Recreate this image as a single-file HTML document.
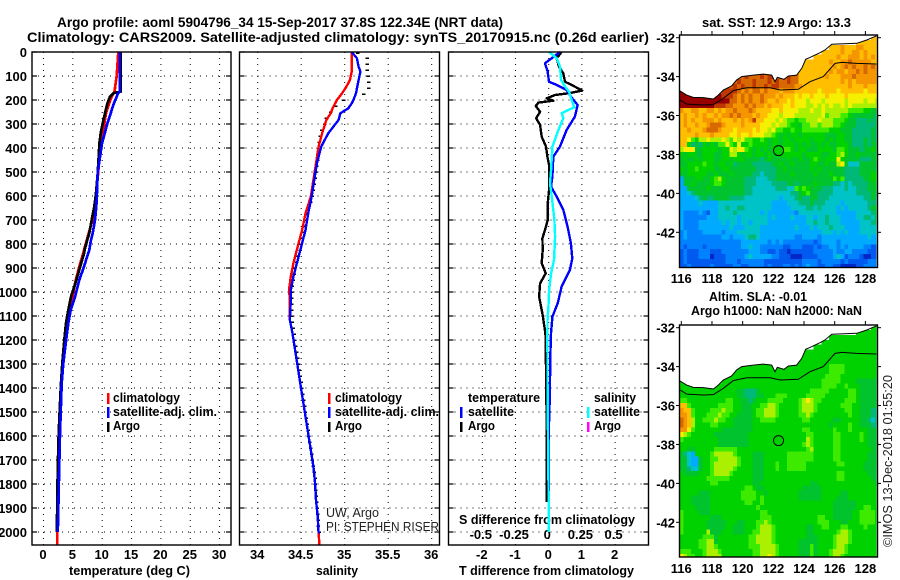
<!DOCTYPE html>
<html lang="en">
<head>
<meta charset="utf-8">
<title>Argo profile 5904796_34</title>
<style>
html,body{margin:0;padding:0;background:#fff;width:900px;height:580px;overflow:hidden}
svg{display:block}
text{font-family:"Liberation Sans",sans-serif;font-size:13px;font-weight:bold;fill:#000}
text.thin{font-weight:normal;fill:#222}
</style>
</head>
<body>
<svg id="chart" width="900" height="580" viewBox="0 0 900 580" xmlns="http://www.w3.org/2000/svg">
<defs id="chart-defs">
<clipPath id="clip-sst"><rect x="679.5" y="35" width="197" height="232.5"/></clipPath>
<clipPath id="clip-sla"><rect x="679.5" y="325" width="197" height="232"/></clipPath>
</defs>
<text x="57" y="27" textLength="446" lengthAdjust="spacingAndGlyphs" style="font-size:13.5px">Argo profile: aoml 5904796_34 15-Sep-2017 37.8S 122.34E (NRT data)</text>
<text x="27" y="42" textLength="622" lengthAdjust="spacingAndGlyphs" style="font-size:13.5px">Climatology: CARS2009. Satellite-adjusted climatology: synTS_20170915.nc (0.26d earlier)</text>

<text x="69" y="575" textLength="121" lengthAdjust="spacingAndGlyphs">temperature (deg C)</text>
<text x="316" y="575" textLength="42" lengthAdjust="spacingAndGlyphs">salinity</text>
<text x="459" y="575" textLength="175" lengthAdjust="spacingAndGlyphs">T difference from climatology</text>
<text x="459" y="524" textLength="176" lengthAdjust="spacingAndGlyphs">S difference from climatology</text>

<g id="layer-panels"></g>

<g>
<rect x="107" y="393" width="2.5" height="11" fill="#ff0000"/>
<rect x="107" y="407" width="2.5" height="11" fill="#0000ff"/>
<rect x="107" y="422" width="2.5" height="10" fill="#000"/>
<text x="113" y="402" textLength="67" lengthAdjust="spacingAndGlyphs">climatology</text>
<text x="113" y="416" textLength="104" lengthAdjust="spacingAndGlyphs">satellite-adj. clim.</text>
<text x="113" y="430" textLength="27" lengthAdjust="spacingAndGlyphs">Argo</text>
</g>
<g>
<rect x="328" y="393" width="2.5" height="11" fill="#ff0000"/>
<rect x="328" y="407" width="2.5" height="11" fill="#0000ff"/>
<rect x="328" y="422" width="2.5" height="10" fill="#000"/>
<text x="335" y="402" textLength="67" lengthAdjust="spacingAndGlyphs">climatology</text>
<text x="335" y="416" textLength="104" lengthAdjust="spacingAndGlyphs">satellite-adj. clim.</text>
<text x="335" y="430" textLength="27" lengthAdjust="spacingAndGlyphs">Argo</text>
<text class="thin" x="326" y="517" textLength="53" lengthAdjust="spacingAndGlyphs">UW, Argo</text>
<text class="thin" x="326" y="531" textLength="113" lengthAdjust="spacingAndGlyphs">PI: STEPHEN RISER</text>
</g>
<g>
<text x="468" y="402" textLength="72" lengthAdjust="spacingAndGlyphs">temperature</text>
<text x="468" y="416" textLength="46" lengthAdjust="spacingAndGlyphs">satellite</text>
<text x="468" y="430" textLength="27" lengthAdjust="spacingAndGlyphs">Argo</text>
<rect x="460" y="407" width="2.5" height="11" fill="#0000ff"/>
<rect x="460" y="422" width="2.5" height="10" fill="#000"/>
<text x="594" y="402" textLength="42" lengthAdjust="spacingAndGlyphs">salinity</text>
<text x="594" y="416" textLength="46" lengthAdjust="spacingAndGlyphs">satellite</text>
<text x="594" y="430" textLength="27" lengthAdjust="spacingAndGlyphs">Argo</text>
<rect x="587" y="407" width="2.5" height="11" fill="#00ffff"/>
<rect x="587" y="422" width="2.5" height="10" fill="#ff00ff"/>
</g>

<g id="layer-maps"></g>

<text x="702" y="27" textLength="149" lengthAdjust="spacingAndGlyphs">sat. SST: 12.9 Argo: 13.3</text>
<text x="709" y="301" textLength="98" lengthAdjust="spacingAndGlyphs">Altim. SLA: -0.01</text>
<text x="691" y="315" textLength="171" lengthAdjust="spacingAndGlyphs">Argo h1000: NaN h2000: NaN</text>
<text class="thin" transform="translate(892 547) rotate(-90)" textLength="172" lengthAdjust="spacingAndGlyphs">©IMOS 13-Dec-2018 01:55:20</text>
</svg>

<script>
// ---- axis tick values ----
const depthTicks = [0,100,200,300,400,500,600,700,800,900,1000,1100,1200,1300,1400,1500,1600,1700,1800,1900,2000];
const tempTicks = [0,5,10,15,20,25,30];
const salTicks = [34,34.5,35,35.5,36];
const tDiffTicks = [-2,-1,0,1,2];
const sDiffTicks = [-0.5,-0.25,0,0.25,0.5];
const sDiffLabels = ['-0.5','-0.25','0','0.25','0.5'];
const lonTicks = [116,118,120,122,124,126,128];
const latTicks = [-32,-34,-36,-38,-40,-42];

// ---- temperature profile ----
const tempDepths = [0,100,165,172,186,214,255,297,339,380,436,505,590,644,700,755,783,825,840,894,950,1020,1075,1130,1214,1297,1380,1464,1589,1714,1825,1963,2000,2054];
const climTemp = [12.75,12.47,12.1,11.9,11.6,11.2,10.65,10.37,10.09,9.86,9.52,9.3,9.0,8.75,8.35,7.7,7.4,6.9,6.75,6.1,5.5,4.9,4.4,3.9,3.5,3.2,3.0,2.85,2.65,2.5,2.4,2.36,2.36,2.33];
const argoTemp = [13.15,13.15,13.15,11.9,11.33,10.88,10.48,10.09,9.74,9.52,9.4,9.23,8.95,8.66,8.21,7.8,7.47,7.0,6.9,6.25,5.6,4.69,4.23,3.84,3.49,3.21,2.98,2.81,2.59,2.45,2.36,2.3,2.3];
const satTemp = [13.0,13.0,13.0,12.7,12.47,12.0,11.45,10.88,10.43,9.97,9.63,9.23,9.1,9.0,8.78,8.38,8.1,7.81,7.6,6.9,6.1,5.37,4.63,4.23,3.78,3.38,3.1,2.98,2.81,2.7,2.59,2.47,2.42];

// ---- salinity profile ----
const salDepths = [0,26,61,82,117,144,172,200,214,235,255,283,339,394,464,533,603,672,742,811,880,936,992,1033,1117,1172,1242,1311,1381,1450,1519,1589,1658,1728,1797,1867,1936,2006,2054];
const climSal = [35.08,35.08,35.08,35.08,35.06,35.02,34.97,34.91,34.89,34.86,34.84,34.79,34.74,34.70,34.67,34.64,34.61,34.55,34.51,34.46,34.41,34.38,34.36,34.37,34.37,34.40,34.43,34.46,34.49,34.52,34.55,34.58,34.61,34.64,34.66,34.67,34.69,34.70,34.71];
const satSal = [35.08,35.14,35.16,35.18,35.16,35.145,35.13,35.10,35.08,35.04,34.95,34.93,34.81,34.73,34.68,34.65,34.62,34.58,34.55,34.50,34.45,34.41,34.38,34.38,34.37,34.40,34.43,34.46,34.49,34.52,34.55,34.58,34.61,34.64,34.66,34.67,34.69,34.70];
const argoSalDepths = [5,25,50,75,100,125,150,175,200,225,250,275,300,325,350,375,400,425,450,475,500,525,550,575,600,625,650,675,700,725,750,775,800,825,850,875,900,925,950,975,1000,1025,1050,1075,1100,1125,1150,1175,1200,1225,1250,1275,1300,1325,1350,1375,1400,1425,1450,1475,1500,1525,1550,1575,1600,1625,1650,1675,1700,1725,1750,1775,1800,1825,1850,1875,1900,1925,1950,1975,2000];
const argoSal = [35.14,35.25,35.25,35.25,35.26,35.27,35.27,35.21,34.98,34.89,34.83,34.78,34.76,34.73,34.71,34.70,34.69,34.68,34.68,34.67,34.66,34.65,34.64,34.63,34.62,34.60,34.58,34.56,34.55,34.54,34.52,34.50,34.49,34.48,34.46,34.44,34.42,34.41,34.40,34.39,34.38,34.38,34.38,34.38,34.38,34.39,34.40,34.41,34.42,34.43,34.44,34.45,34.46,34.47,34.48,34.49,34.50,34.51,34.52,34.53,34.54,34.55,34.56,34.57,34.58,34.59,34.60,34.61,34.62,34.63,34.64,34.65,34.655,34.66,34.665,34.67,34.675,34.68,34.685,34.69,34.70];

// ---- difference-from-climatology profiles ----
const argoTDiffDepths = [0,26,61,89,124,137,161,172,179,193,203,211,225,249,276,304,353,394,436,478,561,631,700,742,776,825,880,922,964,1019,1075,1089,1172,1211,1554,1876];
const argoTDiff = [.39,.24,.31,.44,.49,.69,1.01,.59,.19,-.06,.14,-.31,-.39,-.26,-.38,-.26,-.21,-.08,-.04,.02,.02,-.03,-.03,-.11,-.19,-.18,-.21,-.09,-.26,-.29,-.21,-.19,-.10,-.09,-.06,-.06];
const satTDiffDepths = [0,26,47,82,124,137,158,186,221,269,325,394,436,519,561,603,658,728,797,860,908,978,1047,1103,1172,1256,1450,1589,1853];
const satTDiff = [.34,.09,-.11,-.03,.01,.24,.54,.67,.87,.79,.54,.34,.14,.11,.07,.24,.44,.57,.67,.71,.64,.39,.27,.11,.07,.05,.03,0,0];
const satSDiffDepths = [0,26,61,117,144,165,200,230,255,276,325,394,491,547,603,700,769,867,922,992,1075,1103,1172,1450,1589,1892,2000];
const satSDiff = [.003,.06,.085,.093,.123,.153,.173,.193,.098,.11,.073,.028,.018,.01,.023,.043,.048,.04,.018,.003,-.003,-.008,-.01,-.008,-.005,0,0];

// ---- coastline and shelf contour (lon / lat) ----
const coastLon = [115.87,116.35,116.78,117.44,118.09,118.41,118.74,119.28,119.61,119.94,120.7,121.35,121.89,122.11,122.26,122.70,122.98,123.52,123.85,124.11,124.39,125.04,125.37,125.81,127.44,128.09,128.74];
const coastLat = [-34.72,-34.95,-35.07,-35.08,-35.15,-34.95,-34.69,-34.48,-34.17,-34.0,-33.92,-33.87,-33.92,-34.26,-34.04,-34.14,-33.97,-33.92,-33.58,-33.11,-33.01,-32.77,-32.63,-32.34,-32.29,-32.12,-31.9];
const shelfLon = [115.92,116.35,117.44,118.09,118.74,119.39,120.26,121.78,122.44,123.63,124.39,125.26,126.02,126.46,127.44,128.74];
const shelfLat = [-35.2,-35.41,-35.46,-35.44,-35.12,-34.72,-34.57,-34.57,-34.69,-34.65,-34.26,-34.0,-33.32,-33.27,-33.32,-33.35];
const floatLon = 122.34;
const floatLat = -37.8;

// ---- heatmap cells: one base-16 colour level per 0.25 degree cell, '.' = land, spaces only group columns ----
const sstRows = [
"..................................................bb",
"..............................................bbbbbb",
".......................................bbbcbbbccbbbb",
".....................................bbbbbcbbccbcbbb",
"...................................bbbbbbcbbcccbcbcb",
"................................bbbbbbbcbbccdcccccbb",
"................................bbbbbbbbcbcdcdccdcdc",
"...............................bbbbbbbbcbccbccdcdccc",
"............... ddedddedeedededd bbbbbbbcbbbcccdcccccc",
".............. dedddedddededdedd bbbbbbbbbbbcbcbcccccc",
"............ edededdeddedeeddddcc bbbbbbbbbbbbcbbbcbbb",
"fff........ eeeedcdcddcdcccbcccbb bbbbabbbbabbbbbbabbb",
"fffffffffff eeedcdcdccdcccbcbbbab aabaaabaaaabaaaaaaaa",
"fffffffffffff ddcdcdccdcbbcbbabaa a9aaa9aaaaa9aaaa9aa9",
"fffffffffeee ddcccdcdccbcbbbaabaa a99a9a9a99a9a9999999",
"cbbccbbccbcbccdcccdcb bbbaabaaaa9 99a99a999999 88887766",
"bcbbcbcbbcbccdcdcccbc bbaaa9aaa99 99999a899988 76666665",
"bcbcbbcccbcbbbcbcbceb baaa9a98878 8999a9998887 66555656",
"bcbbcbbcdddcbbbbcbbbb aaa9a998776 889989998876 66555556",
"bbcbbbcdddcbbbabbbbab aa9a8877877 888888877766 65555565",
"bbbbcbbbcbbbbaabaabaa a9987676776 777777666776 65555565",
"bba8799a999a98a9a8877 87677677677 776777676776 65556565",
"bb7565767688a87a77877 77677677767 676676766777 65556566",
"9aaa667777677a9aa8767 67677788767 766677776887 66656676",
"767766777667799767767 76767777777 677776677897 66766666",
"676676777667767776666 56766667667 667876777a76 66655566",
"667777877677675666655 55566766766 6677667669a6 44466666",
"767787777667766666665 55556676666 667676666665 55566666",
"667777766766676666655 45556666766 666766676665 55566677",
"366677667897666665554 44556666666 666666668785 55556677",
"366766667887666665554 44455556656 666766665545 45555667",
"336666676666666665544 44445554487 876665554445 44555666",
"334566666666666665544 44444444556 786655554444 44555566",
"333345655666655554444 44444344456 556655544444 44445565",
"333334333344444444444 44433334445 556555444434 44444555",
"333333333344544554444 44433333444 455454444343 44444566",
"322223213344445444444 34333333324 444444444333 33444456",
"322222233344444344444 44343333433 344344544433 33445546",
"322223333334344344344 44333333333 344544544433 33344455",
"322223333333343334444 33333333343 334344454443 33344444",
"232222333332333444444 33333333333 333334443434 33344444",
"232222222223323334554 33333333322 333323333333 33333433",
"222222222222222233333 33232322222 222123333233 33333333",
"212222122222222233433 22222211222 111212233232 33332211",
"121112221112222222333 22112110111 111222223223 32222111",
"121112220111222223433 33322111000 111122223431 22210011",
"121111111111222122222 21111111111 222212222212 11111222",
"112111112111112211222 21211122121 232211221100 00112222"
];
const slaRows = [
"..................................................77",
"..............................................777777",
".......................................7777777777777",
".....................................777777777777777",
"...................................77777777777777777",
"................................77777777777777777777",
"................................77777777777777777777",
"...............................777777777777777777777",
"............... 777777777777777777777777 8888 777777777",
".............. 7777777777777777777777777 8888 777777777",
"............ 77777777777777777777777777 8888 7777777777",
"777........ 77777777777777777777777777 88888 7777666666",
"77777777777 77777777777777777777777777 8888 77877766666",
"7777777777777 7766555677777 7777777788 88877777 88766666",
"7777777777777 7766555667778 8877777888 88777777 88766666",
"8877777777778 8776656777888 8777789a98 87777778 88766666",
"bb87777777888 8776667788998 7777789998 77777788 87766666",
"cbb8777788898 8776667889998 7777789998 77777778 87766655",
"ccb8777888988 7766667889998 7777788987 77777777 87766655",
"dcb9778889887 7666667788887 7777778877 77776677 77766545",
"dcb9777788777 7666667777777 7777777777 77767777 87766655",
"cca8777777766 6666667777777 7777778877 77778777 87777666",
"a987777776666 6666677777777 7777777887 77778877 77787666",
"8777777777666 6666677777777 7777777987 77778877 77787666",
"7777777777666 6666677777777 7777778987 77778877 77777666",
"7766777778888 8877777777777 7777777897 77778877 77777766",
"6543777789999 9877776667777 7788888887 77778877 77777666",
"6643367788999 9987776667777 7788888887 77778877 77777666",
"6643367789999 9987776667778 7788888777 77777887 77776666",
"6654467789999 9877776667778 7788888777 77777777 77776666",
"7666677789999 8777776667777 7777777777 77777887 77777666",
"7777777888888 7777776667777 7777777777 77777887 77777766",
"7777777788777 7777776677777 7777777766 77777777 77777776",
"7777777777777 7777887667777 7777776666 67777777 77777777",
"7777766677777 7778888776777 7777766666 67777766 77777777",
"7776666677777 7778888787777 7777766666 67777666 77777777",
"7776666677777 7777887787777 7777777777 77776666 66777777",
"7777666677777 7777777877777 7777777777 77776666 66778877",
"8777766677777 7777777788777 7777777777 77776666 67788887",
"8777777766677 7777777788877 7777777777 88776666 67788887",
"8777777666667 7766777889877 7777777777 88877766 77788887",
"8777777666667 7666777899987 7777777667 78877788 77778777",
"8777777966677 7666778899987 7777777667 77777899 87777777",
"7777778886777 7777788999987 7777777666 77778999 87777777",
"7777788996777 7777788999987 7777766666 77778999 87777777",
"7777788998777 7777788899998 7777766686 77778998 77777777",
"8887778999877 7777778899998 7777766686 77789998 77777777",
"a988778999977 7777778899a98 7777766686 77789987 77777777"
];
const levelColors = ['#0028c8','#005af0','#0082ff','#00aaff','#00c3c8','#00b978','#00c32d','#00d200','#3ceb00','#aaf000','#f5f000','#ffbe00','#f59600','#d76900','#be3700','#960000'];

const NS = 'http://www.w3.org/2000/svg';
const panels = document.getElementById('layer-panels');
const maps = document.getElementById('layer-maps');
const defs = document.getElementById('chart-defs');

// ---- axis functions ----
const depthY = d => 52 + 0.24 * d;
const tempX = t => 43.5 + 5.87 * t;
const salX = s => 257.7 + 87 * (s - 34);
const tDiffX = t => 548.7 + 33.2 * t;
const sDiffX = s => 548.7 + 132.8 * s;
const lonX = lon => 681.3 + 15.34 * (lon - 116);
const latY = (lat, top) => top + 2.7 + 19.46 * (-32 - lat);

function make(tag, parent, attrs, txt) {
  const el = document.createElementNS(NS, tag);
  for (const k in attrs) el.setAttribute(k, attrs[k]);
  if (txt !== undefined) el.textContent = txt;
  parent.appendChild(el);
  return el;
}

function drawFrame(parent, x0, y0, x1, y1) {
  const el = make('rect', parent, {x:x0, y:y0, width:x1-x0, height:y1-y0, fill:'none', stroke:'#000', 'stroke-width':1.4});
  
  
}

function drawProfilePanel(name, x0, x1, xTicks, xFn, xLabels, labelY) {
  const g = make('g', panels, {});
  
  
  depthTicks.forEach(d => {
    const y = depthY(d);
    const grid = make('line', g, {x1:x0, x2:x1, y1:y, y2:y, stroke:'#000', 'stroke-width':1, 'stroke-dasharray':'1 5'});
    
    
    const t1 = make('line', g, {x1:x0, x2:x0+5, y1:y, y2:y, stroke:'#000', 'stroke-width':1.2});
    
    
    const t2 = make('line', g, {x1:x1-5, x2:x1, y1:y, y2:y, stroke:'#000', 'stroke-width':1.2});
    
    
  });
  xTicks.forEach((v, i) => {
    const x = xFn(v);
    const grid = make('line', g, {x1:x, x2:x, y1:52, y2:545, stroke:'#000', 'stroke-width':1, 'stroke-dasharray':'1 5'});
    
    
    const lab = make('text', g, {x:x-0.5, y:labelY, 'text-anchor':'middle'}, xLabels[i]);
    
    
  });
  return g;
}

function drawLine(parent, name, depths, values, xFn, color, width) {
  const pts = values.map((v, i) => xFn(v).toFixed(1) + ',' + depthY(depths[i]).toFixed(1)).join(' ');
  const el = make('polyline', parent, {points:pts, fill:'none', stroke:color, 'stroke-width':width, 'stroke-linejoin':'round', 'shape-rendering':'crispEdges'});
  
  
}

// temperature panel
const pT = drawProfilePanel('temperature-panel', 32, 231, tempTicks, tempX, tempTicks.map(String), 559);
depthTicks.forEach(d => {
  const lab = make('text', pT, {x:27, y:depthY(d)+5, 'text-anchor':'end'}, String(d));
  
  
});
drawLine(pT, 'temperature-climatology-line', tempDepths, climTemp, tempX, '#ff0000', 2.7);
drawLine(pT, 'temperature-argo-line', tempDepths, argoTemp, tempX, '#000000', 2.7);
drawLine(pT, 'temperature-satellite-line', tempDepths, satTemp, tempX, '#0000ff', 2.7);
drawFrame(pT, 32, 52, 231, 545);

// salinity panel
const pS = drawProfilePanel('salinity-panel', 239.5, 439.5, salTicks, salX, salTicks.map(String), 559);
argoSal.forEach((s, i) => {
  const y = depthY(argoSalDepths[i]);
  const dash = make('line', pS, {x1:salX(s)-1, x2:salX(s)+2.5, y1:y, y2:y, stroke:'#000', 'stroke-width':1.5, 'shape-rendering':'crispEdges'});
  
  
});
drawLine(pS, 'salinity-climatology-line', salDepths, climSal, salX, '#ff0000', 2.4);
drawLine(pS, 'salinity-satellite-line', salDepths, satSal, salX, '#0000ff', 2.4);
drawFrame(pS, 239.5, 52, 439.5, 545);

// difference panel
const pD = drawProfilePanel('difference-panel', 448.5, 648.5, tDiffTicks, tDiffX, tDiffTicks.map(String), 559);
sDiffTicks.forEach((v, i) => {
  const lab = make('text', pD, {x:sDiffX(v)-1.5, y:539, 'text-anchor':'middle'}, sDiffLabels[i]);
  
  
});
drawLine(pD, 't-difference-argo-line', argoTDiffDepths, argoTDiff, tDiffX, '#000000', 2.4);
drawLine(pD, 't-difference-satellite-line', satTDiffDepths, satTDiff, tDiffX, '#0000ff', 2.4);
drawLine(pD, 's-difference-satellite-line', satSDiffDepths, satSDiff, sDiffX, '#00ffff', 2.4);
drawFrame(pD, 448.5, 52, 648.5, 545);

// map panels
function drawMap(name, rows, top, bottom, clipId, labelBaseline) {
  const g = make('g', maps, {});
  
  
  const seaClip = make('clipPath', defs, {id:clipId + '-sea'});
  make('polygon', seaClip, {points:coastLon.map((v, i) => lonX(v).toFixed(1) + ',' + latY(coastLat[i], top).toFixed(1)).join(' ') + ' 876.5,' + bottom + ' 679.5,' + bottom});
  const cells = make('g', g, {'clip-path':'url(#' + clipId + '-sea)', 'shape-rendering':'crispEdges'});
  
  
  rows.forEach((rawRow, r) => {
    const row = rawRow.split(' ').join('');
    const north = -31.87 - 0.25 * r;
    for (let c = 0; c < row.length; c++) {
      const ch = row[c];
      if (ch === '.') continue;
      const west = 115.88 + 0.25 * c;
      const cell = make('rect', cells, {x:lonX(west), y:latY(north, top), width:4.1, height:5.2, fill:levelColors[parseInt(ch, 16)]});
      
      
    }
  });
  const coast = make('polyline', g, {points:coastLon.map((v, i) => lonX(v).toFixed(1) + ',' + latY(coastLat[i], top).toFixed(1)).join(' '), fill:'none', stroke:'#000', 'stroke-width':1, 'clip-path':'url(#' + clipId + ')'});
  
  
  const shelf = make('polyline', g, {points:shelfLon.map((v, i) => lonX(v).toFixed(1) + ',' + latY(shelfLat[i], top).toFixed(1)).join(' '), fill:'none', stroke:'#000', 'stroke-width':1, 'clip-path':'url(#' + clipId + ')'});
  
  
  const marker = make('circle', g, {cx:lonX(floatLon), cy:latY(floatLat, top), r:5, fill:'none', stroke:'#000', 'stroke-width':1});
  
  
  drawFrame(g, 679.5, top, 877.5, bottom);
  lonTicks.forEach(lon => {
    const x = lonX(lon);
    const t = make('line', g, {x1:x, x2:x, y1:top-4, y2:top, stroke:'#000', 'stroke-width':1});
    
    
    const lab = make('text', g, {x:x, y:labelBaseline, 'text-anchor':'middle'}, String(lon));
    
    
  });
  latTicks.forEach(lat => {
    const y = latY(lat, top);
    const t1 = make('line', g, {x1:676, x2:679.5, y1:y, y2:y, stroke:'#000', 'stroke-width':1});
    
    
    const t2 = make('line', g, {x1:877.5, x2:881, y1:y, y2:y, stroke:'#000', 'stroke-width':1});
    
    
    const lab = make('text', g, {x:675, y:y+5, 'text-anchor':'end'}, String(lat));
    
    
  });
}
drawMap('sst-map', sstRows, 35, 267.5, 'clip-sst', 283);
drawMap('sla-map', slaRows, 325, 557, 'clip-sla', 573);
</script>
</body>
</html>
